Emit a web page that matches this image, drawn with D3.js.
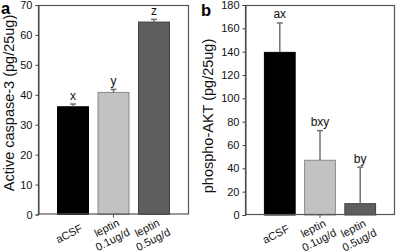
<!DOCTYPE html>
<html>
<head>
<meta charset="utf-8">
<script src="https://cdn.jsdelivr.net/npm/d3@7"></script>
<style>
  body { margin: 0; background: #fff; }
  svg { display: block; font-family: Arial, "Liberation Sans", sans-serif; }
</style>
</head>
<body>
<svg width="397" height="252"></svg>
<script>
const categories = [["aCSF"], ["leptin", "0.1ug/d"], ["leptin", "0.5ug/d"]];
const barColors = ["#000000", "#c2c2c2", "#5e5e5e"];
const barStrokes = ["#000000", "#8a8a8a", "#404040"];

const caspaseMeans = [36.0, 40.8, 64.3];
const caspaseErr = [0.9, 1.0, 0.9];
const caspaseLetters = ["x", "y", "z"];
const caspaseTicks = [0, 10, 20, 30, 40, 50, 60, 70];

const aktMeans = [139.4, 46.9, 9.7];
const aktErr = [25.2, 25.4, 31.3];
const aktLetters = ["ax", "bxy", "by"];
const aktTicks = [0, 20, 40, 60, 80, 100, 120, 140, 160, 180];

const svg = d3.select("svg");

function drawPanel(opts) {
    const { left, right, top, bottom, means, errs, letters, ticks, title, titleX, titleY, tag, tagX, tagY } = opts;
    const g = svg.append("g");

    const x = d3.scaleBand()
        .domain(d3.range(categories.length))
        .range([left, right])
        .paddingInner(0.21)
        .paddingOuter(0.47);

    const y = d3.scaleLinear()
        .domain([0, d3.max(ticks)])
        .range([bottom, top]);

    // bars
    g.selectAll("rect.bar")
        .data(means)
        .join("rect")
        .attr("class", "bar")
        .attr("x", (d, i) => x(i) + 0.5)
        .attr("y", d => y(d))
        .attr("width", x.bandwidth() - 1)
        .attr("height", d => y(0) - y(d))
        .attr("fill", (d, i) => barColors[i])
        .attr("stroke", (d, i) => barStrokes[i])
        .attr("stroke-width", 1);

    // error bars
    const eb = g.selectAll("g.err")
        .data(means)
        .join("g")
        .attr("class", "err")
        .attr("stroke", "#707070")
        .attr("stroke-width", 1.5);
    eb.append("line")
        .attr("x1", (d, i) => x(i) + x.bandwidth() / 2)
        .attr("x2", (d, i) => x(i) + x.bandwidth() / 2)
        .attr("y1", d => y(d))
        .attr("y2", (d, i) => y(d + errs[i]));
    eb.append("line")
        .attr("x1", (d, i) => x(i) + x.bandwidth() / 2 - 3)
        .attr("x2", (d, i) => x(i) + x.bandwidth() / 2 + 3)
        .attr("y1", (d, i) => y(d + errs[i]))
        .attr("y2", (d, i) => y(d + errs[i]));

    // significance letters
    g.selectAll("text.letter")
        .data(means)
        .join("text")
        .attr("class", "letter")
        .attr("x", (d, i) => x(i) + x.bandwidth() / 2)
        .attr("y", (d, i) => y(d + errs[i]) - 4.5)
        .attr("text-anchor", "middle")
        .attr("font-size", "12px")
        .attr("fill", "#111")
        .text((d, i) => letters[i]);

    // frame
    g.append("rect")
        .attr("x", left + 0.5)
        .attr("y", top + 0.5)
        .attr("width", right - left - 1)
        .attr("height", bottom - top - 1)
        .attr("fill", "none")
        .attr("stroke", "#555")
        .attr("stroke-width", 1.2);

    // y axis
    const ax = g.append("g")
        .attr("transform", `translate(${left + 0.5},0)`)
        .call(d3.axisLeft(y).tickValues(ticks).tickSize(3).tickPadding(3));
    ax.select(".domain").attr("stroke", "#444");
    ax.selectAll(".tick line").attr("stroke", "#444");
    ax.selectAll(".tick text")
        .attr("font-size", "11px")
        .attr("font-family", "Arial, 'Liberation Sans', sans-serif")
        .attr("fill", "#111");

    // small tick under the middle category
    const mid = Math.floor(categories.length / 2);
    g.append("line")
        .attr("x1", x(mid) + x.bandwidth() / 2)
        .attr("x2", x(mid) + x.bandwidth() / 2)
        .attr("y1", bottom)
        .attr("y2", bottom + 3)
        .attr("stroke", "#555");

    // category labels
    categories.forEach((lines, i) => {
        const cx = x(i) + x.bandwidth() / 2 - 4;
        const t = g.append("text")
            .attr("transform", `translate(${cx},${bottom + 19}) rotate(-27)`)
            .attr("text-anchor", "middle")
            .attr("font-size", "11px")
            .attr("fill", "#111");
        const off = (lines.length - 1) * 6.5;
        lines.forEach((ln, j) => {
            t.append("tspan")
                .attr("x", 0)
                .attr("y", j * 13 - off + 4)
                .text(ln);
        });
    });

    // y title
    g.append("text")
        .attr("transform", `translate(${titleX},${titleY}) rotate(-90)`)
        .attr("text-anchor", "middle")
        .attr("font-size", "14.5px")
        .attr("fill", "#111")
        .text(title);

    // panel tag
    g.append("text")
        .attr("x", tagX)
        .attr("y", tagY)
        .attr("font-size", "16.5px")
        .attr("font-weight", "bold")
        .attr("fill", "#000")
        .text(tag);
}

drawPanel({
    left: 38, right: 189, top: 5, bottom: 214.5,
    means: caspaseMeans, errs: caspaseErr, letters: caspaseLetters, ticks: caspaseTicks,
    title: "Active caspase-3 (pg/25ug)", titleX: 13.5, titleY: 103,
    tag: "a", tagX: 1, tagY: 14
});

drawPanel({
    left: 245, right: 395, top: 5, bottom: 215,
    means: aktMeans, errs: aktErr, letters: aktLetters, ticks: aktTicks,
    title: "phospho-AKT (pg/25ug)", titleX: 212.5, titleY: 116,
    tag: "b", tagX: 201, tagY: 15.5
});
</script>
</body>
</html>
